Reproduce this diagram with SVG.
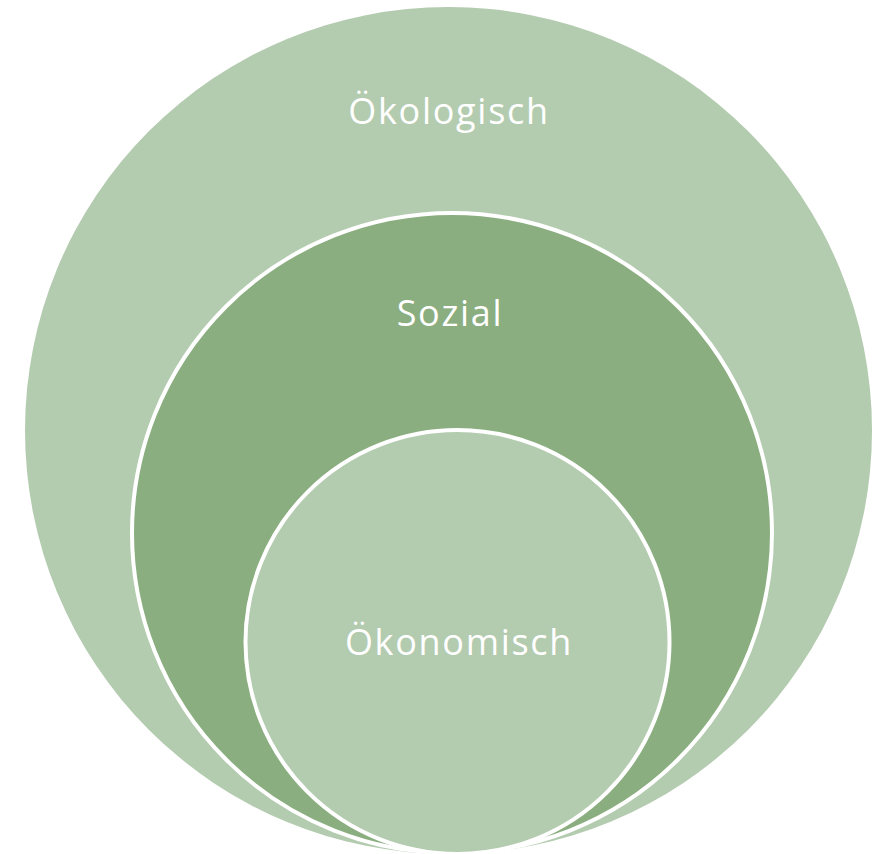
<svg xmlns="http://www.w3.org/2000/svg" width="886" height="854" viewBox="0 0 886 854">
<style>
.lbl{font-family:"Open Sans","Noto Sans",sans-serif;font-size:36px;letter-spacing:1.7px;fill:#ffffff;text-anchor:middle}
.c{stroke:#ffffff;stroke-width:4}
</style>
<rect width="886" height="854" fill="#ffffff"/>
<g id="oekologisch">
<circle cx="448.5" cy="430.5" r="423.5" fill="#B3CBAF"/>
<text class="lbl" x="449" y="124">Ökologisch</text>
</g>
<g id="sozial">
<circle class="c" cx="452" cy="533" r="320" fill="#8BAE80"/>
<text class="lbl" x="450" y="326">Sozial</text>
</g>
<g id="oekonomisch">
<circle class="c" cx="457.5" cy="642" r="212" fill="#B3CBAF"/>
<text class="lbl" x="459" y="655">Ökonomisch</text>
</g>
<g id="connectors"/>
</svg>
